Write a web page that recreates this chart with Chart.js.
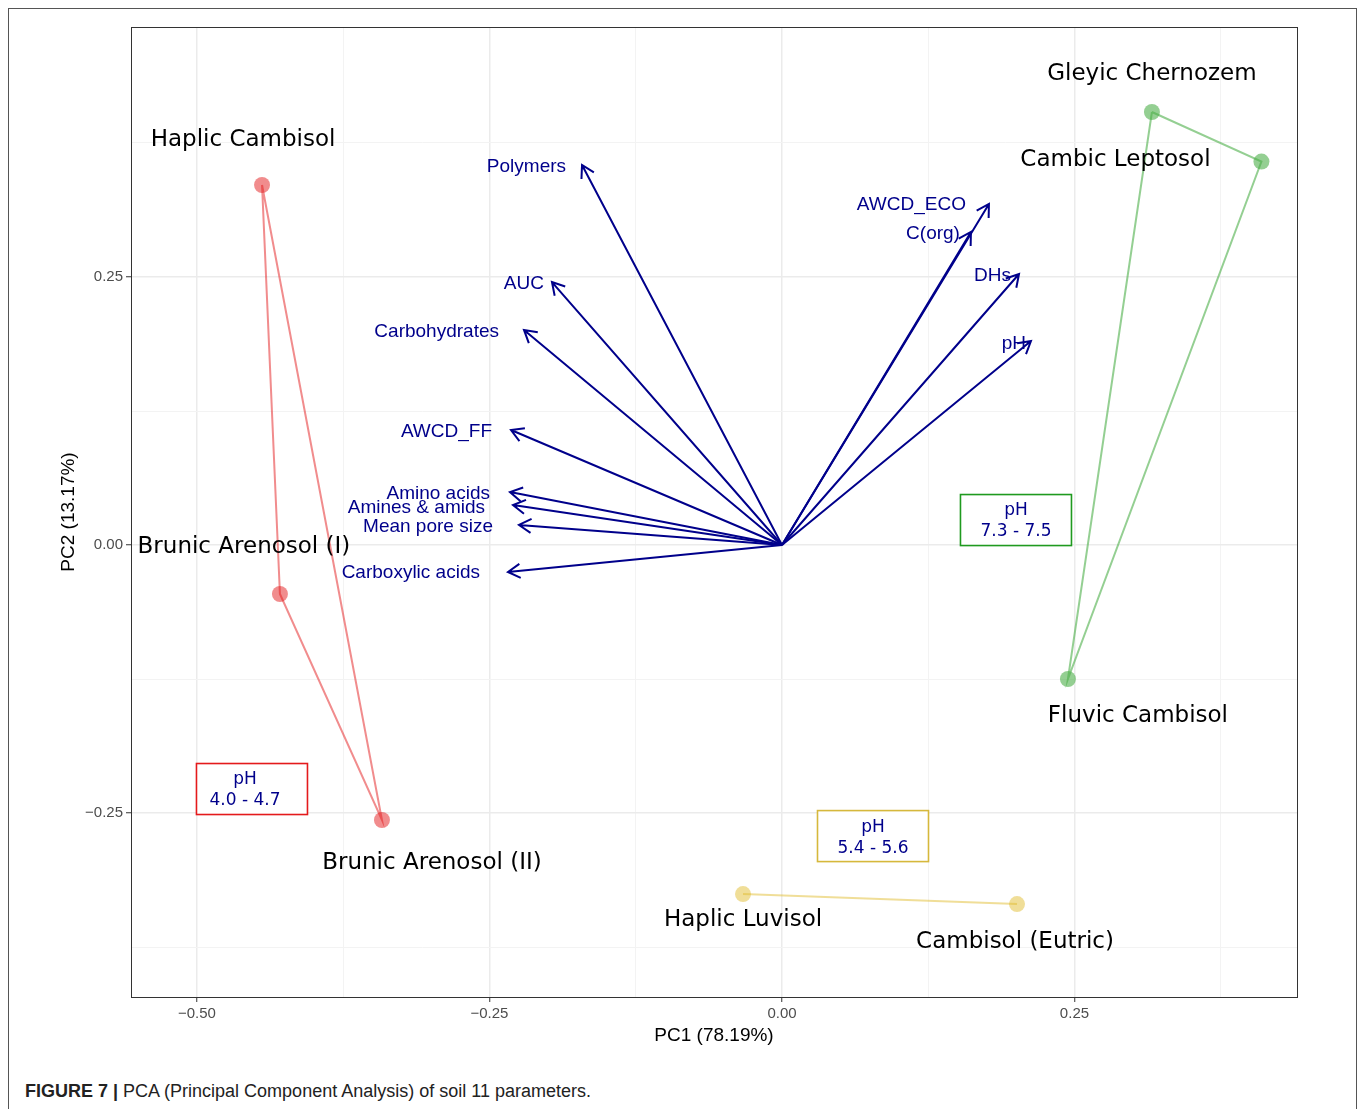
<!DOCTYPE html>
<html>
<head>
<meta charset="utf-8">
<title>PCA of soil parameters</title>
<script src="https://cdn.jsdelivr.net/npm/chart.js@4.4.0/dist/chart.umd.min.js"></script>
<style>
    body { margin: 0; background: #fff; }
    #frame { position: absolute; left: 8px; top: 8px; width: 1347px; height: 1130px; border: 1px solid #555; }
    #wrap { position: absolute; left: 0; top: 0; width: 1358px; height: 1060px; }
    #caption { position: absolute; left: 25px; top: 1081px; font: 18px "Liberation Sans", Arial, sans-serif; color: #222; white-space: nowrap; }
    #caption b { font-weight: bold; }
</style>
</head>
<body>
<div id="frame"></div>
<div id="wrap"><canvas id="pca-chart"></canvas></div>
<div id="caption"><b>FIGURE 7 |</b> PCA (Principal Component Analysis) of soil 11 parameters.</div>

<script>
// Soil samples (scores)
const soilNames = ['Haplic Cambisol', 'Brunic Arenosol (I)', 'Brunic Arenosol (II)',
    'Gleyic Chernozem', 'Cambic Leptosol', 'Fluvic Cambisol',
    'Haplic Luvisol', 'Cambisol (Eutric)'];
const soilPC1 = [-0.4444, -0.4291, -0.3419, 0.3162, 0.4098, 0.2444, -0.0333, 0.2009];
const soilPC2 = [0.3358, -0.0457, -0.2565, 0.4039, 0.3577, -0.1250, -0.3256, -0.3349];
const soilGroup = [0, 0, 0, 1, 1, 1, 2, 2];

// Variables (loadings)
const varNames = ['Polymers', 'AWCD_ECO', 'C(org)', 'DHs', 'pH', 'AUC', 'Carbohydrates',
    'AWCD_FF', 'Amino acids', 'Amines & amids', 'Mean pore size', 'Carboxylic acids'];
const varPC1 = [-0.1709, 0.1769, 0.1615, 0.2026, 0.2128, -0.1966, -0.2205,
    -0.2316, -0.2325, -0.2299, -0.2248, -0.2342];
const varPC2 = [0.3545, 0.3181, 0.2920, 0.2528, 0.1903, 0.2453, 0.2006,
    0.1073, 0.0494, 0.0373, 0.0187, -0.0252];

// pH range boxes
const phRanges = ['4.0 - 4.7', '7.3 - 7.5', '5.4 - 5.6'];
const phBoxPC1 = [-0.4530, 0.2000, 0.0778];
const phBoxPC2 = [-0.2276, 0.0233, -0.2715];

// Tick values
const gridValues = [-0.5, -0.375, -0.25, -0.125, 0, 0.125, 0.25, 0.375];

// Colours per group: red, green, yellow
const groupFill = ['rgba(228,26,28,0.5)', 'rgba(77,175,74,0.6)', 'rgba(225,190,50,0.5)'];
const groupLine = ['rgba(228,26,28,0.5)', 'rgba(77,175,74,0.6)', 'rgba(225,190,50,0.5)'];
const groupBox = ['#e41a1c', '#1f9a1f', '#d6b83c'];

// pixel nudges for the text labels (ggrepel-like placement)
const soilLabelShift = [[-19, -45], [-36, -47], [50, 43], [0, -38], [-146, -2], [70, 37], [0, 26], [-2, 38]];
const varLabelShift = [[-16, 2], [-23, 1], [-11, 2], [-8, 2], [-5, 3], [-8, 2], [-25, 2],
    [-19, 2], [-20, 2], [-28, 3], [-26, 2], [-28, 1]];
const phTextShift = [-7, 0, 0];

const isMajor = v => Math.abs(v * 4 - Math.round(v * 4)) < 1e-9;
const fmt = v => v.toFixed(2).replace('-', '\u2212');

// build the datasets
const pointSets = [0, 1, 2].map(g => ({
    label: 'group ' + g,
    data: soilNames.map((n, i) => ({ x: soilPC1[i], y: soilPC2[i], g: soilGroup[i] })).filter(p => p.g === g),
    backgroundColor: groupFill[g],
    borderWidth: 0,
    pointRadius: 8,
    pointHoverRadius: 8,
    order: 2
}));
const hullSets = pointSets.map((ds, g) => ({
    label: 'hull ' + g,
    data: ds.data.concat([ds.data[0]]),
    showLine: true,
    borderColor: groupLine[g],
    borderWidth: 2,
    pointRadius: 0,
    fill: false,
    order: 1
}));

// extra drawing: panel border, arrows and labels
const biplotPlugin = {
    id: 'biplot',
    afterDatasetsDraw(chart) {
        const ctx = chart.ctx;
        const xs = chart.scales.x, ys = chart.scales.y;
        const ca = chart.chartArea;
        const x0 = xs.getPixelForValue(0), y0 = ys.getPixelForValue(0);

        ctx.save();
        // arrows
        ctx.strokeStyle = '#00008B';
        ctx.lineWidth = 2;
        ctx.lineCap = 'butt';
        varNames.forEach((name, i) => {
            const tx = xs.getPixelForValue(varPC1[i]);
            const ty = ys.getPixelForValue(varPC2[i]);
            const ang = Math.atan2(ty - y0, tx - x0);
            ctx.beginPath();
            ctx.moveTo(x0, y0);
            ctx.lineTo(tx, ty);
            const len = 14, spread = Math.PI / 6;
            ctx.moveTo(tx - len * Math.cos(ang - spread), ty - len * Math.sin(ang - spread));
            ctx.lineTo(tx, ty);
            ctx.lineTo(tx - len * Math.cos(ang + spread), ty - len * Math.sin(ang + spread));
            ctx.stroke();
        });

        // variable labels
        ctx.fillStyle = '#00008B';
        ctx.font = '19px "Liberation Sans", Arial, sans-serif';
        ctx.textAlign = 'right';
        ctx.textBaseline = 'middle';
        varNames.forEach((name, i) => {
            const tx = xs.getPixelForValue(varPC1[i]);
            const ty = ys.getPixelForValue(varPC2[i]);
            ctx.fillText(name, tx + varLabelShift[i][0], ty + varLabelShift[i][1]);
        });

        // soil labels
        ctx.fillStyle = '#000';
        ctx.font = '23px "DejaVu Sans", sans-serif';
        ctx.textAlign = 'center';
        soilNames.forEach((name, i) => {
            const px = xs.getPixelForValue(soilPC1[i]);
            const py = ys.getPixelForValue(soilPC2[i]);
            ctx.fillText(name, px + soilLabelShift[i][0], py + soilLabelShift[i][1]);
        });

        // pH boxes
        ctx.font = '17px "DejaVu Sans", sans-serif';
        phRanges.forEach((txt, g) => {
            const cx = xs.getPixelForValue(phBoxPC1[g]);
            const cy = ys.getPixelForValue(phBoxPC2[g]);
            ctx.fillStyle = '#fff';
            ctx.fillRect(cx - 55.5, cy - 25.5, 111, 51);
            ctx.strokeStyle = groupBox[g];
            ctx.lineWidth = 1.6;
            ctx.strokeRect(cx - 55.5, cy - 25.5, 111, 51);
            ctx.fillStyle = '#00008B';
            ctx.fillText('pH', cx + phTextShift[g], cy - 9);
            ctx.fillText(txt, cx + phTextShift[g], cy + 12);
        });

        // panel border
        ctx.strokeStyle = '#333';
        ctx.lineWidth = 1;
        ctx.strokeRect(ca.left + 0.5, ca.top + 0.5, ca.right - ca.left, ca.bottom - ca.top);
        ctx.restore();
    }
};

function axisOptions(min, max, title, isX) {
    return {
        type: 'linear',
        min: min,
        max: max,
        afterBuildTicks: scale => { scale.ticks = gridValues.map(v => ({ value: v })); },
        afterFit: scale => {
            if (isX) scale.height = 50; else scale.width = 76;
        },
        ticks: {
            autoSkip: false,
            maxRotation: 0,
            padding: 3,
            color: '#4d4d4d',
            font: { family: '"Liberation Sans", Arial, sans-serif', size: 15 },
            callback: value => isMajor(value) ? fmt(value) : ''
        },
        grid: {
            color: ctx => isMajor(ctx.tick.value) ? '#ebebeb' : '#f3f3f3',
            lineWidth: ctx => isMajor(ctx.tick.value) ? 1.5 : 1,
            tickColor: ctx => isMajor(ctx.tick.value) ? '#333' : 'rgba(0,0,0,0)',
            tickLength: 5,
            tickWidth: 1
        },
        border: { display: false },
        title: {
            display: true,
            text: title,
            color: '#000',
            font: { family: '"Liberation Sans", Arial, sans-serif', size: 19 },
            padding: { top: 2, bottom: 0 }
        }
    };
}

const ctx = document.getElementById('pca-chart').getContext('2d');
const pcaChart = new Chart(ctx, {
    type: 'scatter',
    data: { datasets: pointSets.concat(hullSets) },
    options: {
        responsive: true,
        maintainAspectRatio: false,
        animation: false,
        layout: { padding: { left: 55, right: 61, top: 27, bottom: 13 } },
        plugins: {
            legend: { display: false },
            tooltip: { enabled: false }
        },
        scales: {
            x: axisOptions(-0.5564, 0.4402, 'PC1 (78.19%)', true),
            y: axisOptions(-0.4216, 0.4832, 'PC2 (13.17%)', false)
        }
    },
    plugins: [biplotPlugin]
});
</script>
</body>
</html>
